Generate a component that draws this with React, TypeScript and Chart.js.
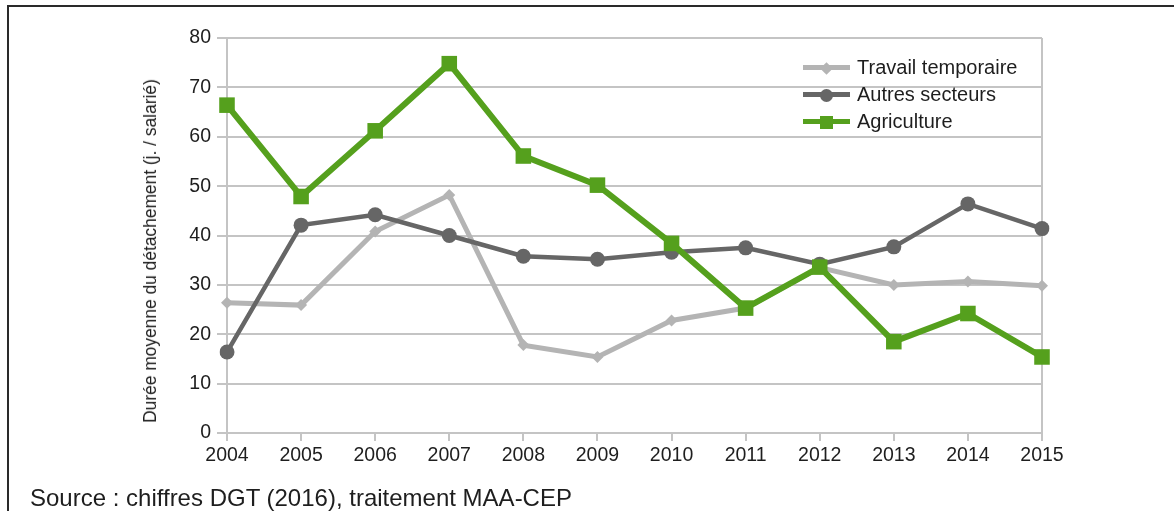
import React, { useEffect, useRef } from "react";
import { Chart, registerables } from "chart.js";

Chart.register(...registerables);

const years = ["2004","2005","2006","2007","2008","2009","2010","2011","2012","2013","2014","2015"];
const travailTemporaire = [26.4, 25.9, 40.8, 48.2, 17.8, 15.4, 22.8, 25.3, 33.5, 30.0, 30.7, 29.8];
const autresSecteurs = [16.4, 42.1, 44.2, 40.0, 35.8, 35.2, 36.6, 37.5, 34.2, 37.7, 46.4, 41.4];
const agriculture = [66.4, 47.9, 61.2, 74.8, 56.1, 50.2, 38.4, 25.3, 33.6, 18.5, 24.2, 15.4];
const yTicks = [0, 10, 20, 30, 40, 50, 60, 70, 80];
const seriesNames = ["Travail temporaire", "Autres secteurs", "Agriculture"];
const seriesColors = ["#b4b4b4", "#666666", "#55a01d"];
const yTitle = "Durée moyenne du détachement (j. / salarié)";
const sourceText = "Source : chiffres DGT (2016), traitement MAA-CEP";

const FONT = "'Liberation Sans', Arial, sans-serif";

export default function App() {
  const ref = useRef<HTMLCanvasElement | null>(null);

  useEffect(() => {
    document.body.style.margin = "0";
    const ctx = ref.current!.getContext("2d")!;
    const chart = new Chart(ctx, {
      type: "line",
      data: {
        labels: years,
        datasets: [
          {
            label: seriesNames[0],
            data: travailTemporaire,
            borderColor: seriesColors[0],
            backgroundColor: seriesColors[0],
            borderWidth: 5,
            pointStyle: "rectRot",
            pointRadius: 6,
            pointBorderWidth: 0,
            tension: 0,
            order: 3,
          },
          {
            label: seriesNames[1],
            data: autresSecteurs,
            borderColor: seriesColors[1],
            backgroundColor: seriesColors[1],
            borderWidth: 4.5,
            pointStyle: "circle",
            pointRadius: 7.5,
            pointBorderWidth: 0,
            tension: 0,
            order: 2,
          },
          {
            label: seriesNames[2],
            data: agriculture,
            borderColor: seriesColors[2],
            backgroundColor: seriesColors[2],
            borderWidth: 6,
            pointStyle: "rect",
            pointRadius: 11,
            pointBorderWidth: 0,
            tension: 0,
            order: 1,
          },
        ],
      },
      options: {
        responsive: false,
        animation: false,
        layout: { padding: { left: 100, right: 132, top: 38, bottom: 0 } },
        plugins: { legend: { display: false }, tooltip: { enabled: false } },
        scales: {
          x: {
            offset: false,
            afterFit: (s: any) => { s.height = 78; },
            grid: {
              color: (c: any) => (c.index === years.length - 1 ? "#c4c4c4" : "rgba(0,0,0,0)"),
              tickColor: "#c4c4c4",
              tickLength: 8,
              lineWidth: 2,
            },
            border: { display: false },
            ticks: { color: "#1e1e1e", font: { family: FONT, size: 19.5 }, padding: 3, maxRotation: 0 },
          },
          y: {
            min: 0,
            max: 80,
            afterFit: (s: any) => { s.width = 127; },
            afterBuildTicks: (s: any) => { s.ticks = yTicks.map((v) => ({ value: v })); },
            grid: { color: "#c4c4c4", lineWidth: 2, tickLength: 10 },
            border: { display: true, color: "#c4c4c4", width: 2 },
            ticks: { color: "#1e1e1e", font: { family: FONT, size: 19.5 }, padding: 6 },
          },
        },
      },
    });
    return () => chart.destroy();
  }, []);

  const legendRow = (i: number) => {
    const markers = [
      <div key="m" style={{ position: "absolute", left: 19, top: -3, width: 9, height: 9, background: seriesColors[0], transform: "rotate(45deg)" }} />,
      <div key="m" style={{ position: "absolute", left: 17, top: -5, width: 13, height: 13, borderRadius: "50%", background: seriesColors[1] }} />,
      <div key="m" style={{ position: "absolute", left: 17, top: -5, width: 13, height: 13, background: seriesColors[2] }} />,
    ];
    return (
      <div key={i} style={{ position: "absolute", left: 803, top: 67 + i * 27, height: 0 }}>
        <div style={{ position: "absolute", left: 0, top: 0, width: 47 }}>
          <div style={{ position: "absolute", left: 0, top: -2.5, width: 47, height: 5, background: seriesColors[i] }} />
          {markers[i]}
        </div>
        <div style={{ position: "absolute", left: 54, top: -12, font: `20px ${FONT}`, color: "#1e1e1e", whiteSpace: "nowrap", lineHeight: "24px" }}>
          {seriesNames[i]}
        </div>
      </div>
    );
  };

  return (
    <div style={{ position: "relative", width: 1174, height: 511, overflow: "hidden", background: "#fff" }}>
      <div style={{ position: "absolute", left: 7, top: 5, width: 1200, height: 600, border: "2px solid #2a2a2a", boxSizing: "border-box" }} />
      <canvas ref={ref} width={1174} height={511} style={{ position: "absolute", left: 0, top: 0 }} />
      <div
        style={{
          position: "absolute",
          left: 150,
          top: 251,
          transform: "translate(-50%, -50%) rotate(-90deg) scaleX(0.965)",
          font: `18px 'Liberation Sans Narrow', 'Liberation Sans', sans-serif`,
          color: "#1e1e1e",
          whiteSpace: "nowrap",
          lineHeight: "20px",
        }}
      >
        {yTitle}
      </div>
      {[0, 1, 2].map(legendRow)}
      <div style={{ position: "absolute", left: 30, top: 486, font: `24px ${FONT}`, color: "#1e1e1e", whiteSpace: "nowrap", lineHeight: "24px" }}>
        {sourceText}
      </div>
    </div>
  );
}
